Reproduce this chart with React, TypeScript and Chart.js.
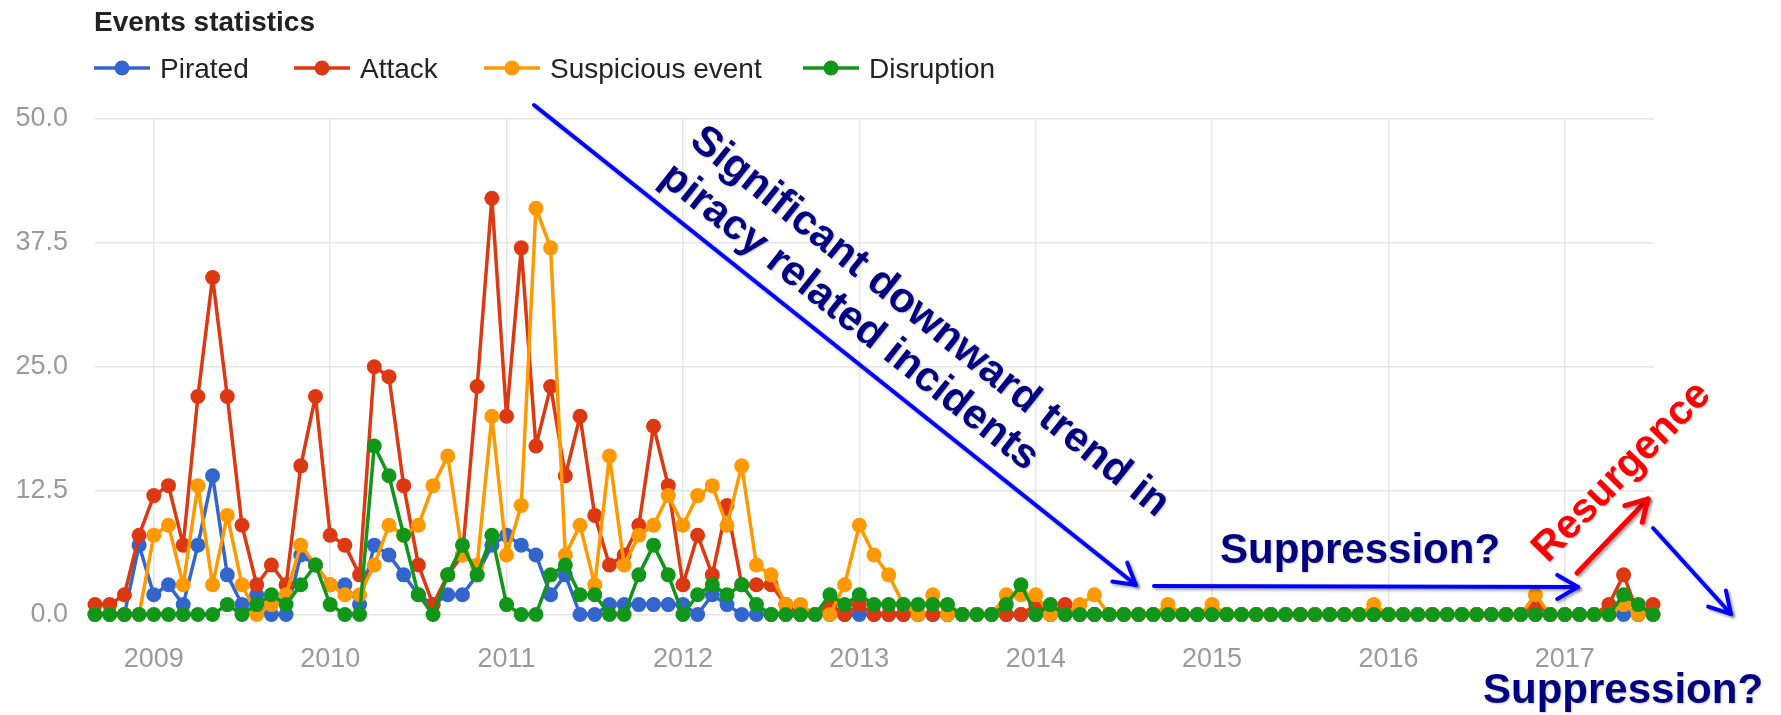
import { useEffect, useRef } from 'react';
import { Chart, registerables } from 'chart.js';

Chart.register(...registerables);

// ---------------- DATA ----------------
const TITLE = 'Events statistics';

const months: string[] = [
  '2008-09', '2008-10', '2008-11', '2008-12',
  '2009-01', '2009-02', '2009-03', '2009-04', '2009-05', '2009-06', '2009-07', '2009-08', '2009-09', '2009-10', '2009-11', '2009-12',
  '2010-01', '2010-02', '2010-03', '2010-04', '2010-05', '2010-06', '2010-07', '2010-08', '2010-09', '2010-10', '2010-11', '2010-12',
  '2011-01', '2011-02', '2011-03', '2011-04', '2011-05', '2011-06', '2011-07', '2011-08', '2011-09', '2011-10', '2011-11', '2011-12',
  '2012-01', '2012-02', '2012-03', '2012-04', '2012-05', '2012-06', '2012-07', '2012-08', '2012-09', '2012-10', '2012-11', '2012-12',
  '2013-01', '2013-02', '2013-03', '2013-04', '2013-05', '2013-06', '2013-07', '2013-08', '2013-09', '2013-10', '2013-11', '2013-12',
  '2014-01', '2014-02', '2014-03', '2014-04', '2014-05', '2014-06', '2014-07', '2014-08', '2014-09', '2014-10', '2014-11', '2014-12',
  '2015-01', '2015-02', '2015-03', '2015-04', '2015-05', '2015-06', '2015-07', '2015-08', '2015-09', '2015-10', '2015-11', '2015-12',
  '2016-01', '2016-02', '2016-03', '2016-04', '2016-05', '2016-06', '2016-07', '2016-08', '2016-09', '2016-10', '2016-11', '2016-12',
  '2017-01', '2017-02', '2017-03', '2017-04', '2017-05', '2017-06', '2017-07',
];

const pirated: number[] = [
  0, 0, 0, 7,
  2, 3, 1, 7, 14, 4, 1, 2, 0, 0, 6, 5,
  3, 3, 1, 7, 6, 4, 2, 1, 2, 2, 4, 7,
  8, 7, 6, 2, 4, 0, 0, 1, 1, 1, 1, 1,
  1, 0, 2, 1, 0, 0, 0, 0, 0, 0, 0, 0,
  0, 0, 0, 0, 0, 0, 0, 0, 0, 0, 0, 0,
  0, 0, 0, 0, 0, 0, 0, 0, 0, 0, 0, 0,
  0, 0, 0, 0, 0, 0, 0, 0, 0, 0, 0, 0,
  0, 0, 0, 0, 0, 0, 0, 0, 0, 0, 0, 0,
  0, 0, 0, 0, 0, 0, 0,
];

const attack: number[] = [
  1, 1, 2, 8,
  12, 13, 7, 22, 34, 22, 9, 3, 5, 3, 15, 22,
  8, 7, 4, 25, 24, 13, 5, 1, 4, 6, 23, 42,
  20, 37, 17, 23, 14, 20, 10, 5, 6, 9, 19, 13,
  3, 8, 4, 11, 3, 3, 3, 1, 0, 0, 1, 0,
  1, 0, 0, 0, 0, 0, 0, 0, 0, 0, 0, 0,
  1, 0, 1, 0, 0, 0, 0, 0, 0, 0, 0, 0,
  0, 0, 0, 0, 0, 0, 0, 0, 0, 0, 0, 0,
  0, 0, 0, 0, 0, 0, 0, 0, 0, 0, 1, 0,
  0, 0, 0, 1, 4, 0, 1,
];

const suspicious: number[] = [
  0, 0, 0, 0,
  8, 9, 3, 13, 3, 10, 3, 0, 1, 2, 7, 5,
  3, 2, 2, 5, 9, 8, 9, 13, 16, 6, 5, 20,
  6, 11, 41, 37, 6, 9, 3, 16, 5, 8, 9, 12,
  9, 12, 13, 9, 15, 5, 4, 1, 1, 0, 0, 3,
  9, 6, 4, 1, 0, 2, 0, 0, 0, 0, 2, 2,
  2, 0, 0, 1, 2, 0, 0, 0, 0, 1, 0, 0,
  1, 0, 0, 0, 0, 0, 0, 0, 0, 0, 0, 1,
  0, 0, 0, 0, 0, 0, 0, 0, 0, 0, 2, 0,
  0, 0, 0, 0, 1, 0, 0,
];

const disruption: number[] = [
  0, 0, 0, 0,
  0, 0, 0, 0, 0, 1, 0, 1, 2, 1, 3, 5,
  1, 0, 0, 17, 14, 8, 2, 0, 4, 7, 4, 8,
  1, 0, 0, 4, 5, 2, 2, 0, 0, 4, 7, 4,
  0, 2, 3, 2, 3, 1, 0, 0, 0, 0, 2, 1,
  2, 1, 1, 1, 1, 1, 1, 0, 0, 0, 1, 3,
  0, 1, 0, 0, 0, 0, 0, 0, 0, 0, 0, 0,
  0, 0, 0, 0, 0, 0, 0, 0, 0, 0, 0, 0,
  0, 0, 0, 0, 0, 0, 0, 0, 0, 0, 0, 0,
  0, 0, 0, 0, 2, 1, 0,
];

const seriesNames: string[] = ['Pirated', 'Attack', 'Suspicious event', 'Disruption'];
const seriesColors: string[] = ['#3366cc', '#dc3912', '#ff9900', '#109618'];

const yearLabels: string[] = ['2009', '2010', '2011', '2012', '2013', '2014', '2015', '2016', '2017'];
const yTickLabels: string[] = ['0.0', '12.5', '25.0', '37.5', '50.0'];

// annotation texts
const trendLine1 = 'Significant downward trend in';
const trendLine2 = 'piracy related incidents';
const suppressionText = 'Suppression?';
const resurgenceText = 'Resurgence';

// ---------------- HELPERS ----------------
const FONT = '"Liberation Sans", Arial, Helvetica, sans-serif';
const monthToX = (m: string) => {
  const [y, mo] = m.split('-').map(Number);
  return (y - 2009) * 12 + (mo - 1);
};
const yearTickValues = yearLabels.map((l) => (Number(l) - 2009) * 12);
const yTickValues = yTickLabels.map(Number);

function drawArrow(ctx: CanvasRenderingContext2D, x1: number, y1: number, x2: number, y2: number, color: string, width: number, head = 24) {
  ctx.save();
  ctx.strokeStyle = color;
  ctx.lineWidth = width;
  ctx.lineCap = 'round';
  ctx.lineJoin = 'round';
  ctx.shadowColor = 'rgba(0,0,0,0.35)';
  ctx.shadowBlur = 3;
  ctx.shadowOffsetX = 2;
  ctx.shadowOffsetY = 2;
  ctx.beginPath();
  ctx.moveTo(x1, y1);
  ctx.lineTo(x2, y2);
  ctx.stroke();
  const a = Math.atan2(y2 - y1, x2 - x1);
  ctx.beginPath();
  ctx.moveTo(x2 + head * Math.cos(a + Math.PI - Math.PI / 6), y2 + head * Math.sin(a + Math.PI - Math.PI / 6));
  ctx.lineTo(x2, y2);
  ctx.lineTo(x2 + head * Math.cos(a + Math.PI + Math.PI / 6), y2 + head * Math.sin(a + Math.PI + Math.PI / 6));
  ctx.stroke();
  ctx.restore();
}

function drawRotText(ctx: CanvasRenderingContext2D, text: string, x: number, y: number, deg: number, color: string, size: number, align: CanvasTextAlign = 'left', baseline: CanvasTextBaseline = 'alphabetic') {
  ctx.save();
  ctx.translate(x, y);
  ctx.rotate((deg * Math.PI) / 180);
  ctx.font = `bold ${size}px ${FONT}`;
  ctx.fillStyle = color;
  ctx.textAlign = align;
  ctx.textBaseline = baseline;
  ctx.shadowColor = 'rgba(0,0,0,0.2)';
  ctx.shadowBlur = 2;
  ctx.shadowOffsetX = 1;
  ctx.shadowOffsetY = 1;
  ctx.fillText(text, 0, 0);
  ctx.restore();
}

const overlayPlugin = {
  id: 'overlay',
  afterDraw(chart: Chart) {
    const ctx = chart.ctx;
    ctx.save();
    // Title
    ctx.font = `bold 28px ${FONT}`;
    ctx.fillStyle = '#222222';
    ctx.textAlign = 'left';
    ctx.textBaseline = 'alphabetic';
    ctx.fillText(TITLE, 94, 31);

    // Legend
    const legendX = [94, 294, 484, 803];
    const legendY = 68;
    seriesNames.forEach((name, i) => {
      const x0 = legendX[i];
      ctx.strokeStyle = seriesColors[i];
      ctx.lineWidth = 3.5;
      ctx.beginPath();
      ctx.moveTo(x0, legendY);
      ctx.lineTo(x0 + 56, legendY);
      ctx.stroke();
      ctx.fillStyle = seriesColors[i];
      ctx.beginPath();
      ctx.arc(x0 + 28, legendY, 7.5, 0, Math.PI * 2);
      ctx.fill();
      ctx.fillStyle = '#222222';
      ctx.font = `28px ${FONT}`;
      ctx.textBaseline = 'alphabetic';
      ctx.fillText(name, x0 + 66, legendY + 10);
    });
    ctx.restore();

    // Annotations
    const navy = '#000080';
    drawArrow(ctx, 534, 105, 1136, 585, '#0000ff', 4);
    drawRotText(ctx, trendLine1, 688, 144, 38.6, navy, 42);
    drawRotText(ctx, trendLine2, 658, 181, 38.3, navy, 42);

    drawArrow(ctx, 1154, 586, 1578, 587, '#0000ff', 4);
    drawRotText(ctx, suppressionText, 1220, 563, 0, navy, 42);

    drawArrow(ctx, 1577, 573, 1648, 499, '#ff0000', 5);
    drawRotText(ctx, resurgenceText, 1622, 472, -45.5, '#ff0000', 41, 'center', 'middle');

    drawArrow(ctx, 1653, 528, 1731, 614, '#0000ff', 4);
    drawRotText(ctx, suppressionText, 1483, 703, 0, navy, 42);
  },
};

export default function App() {
  const ref = useRef<HTMLCanvasElement>(null);

  useEffect(() => {
    document.body.style.margin = '0';
    const canvas = ref.current;
    if (!canvas) return;
    const allSeries = [pirated, attack, suspicious, disruption];
    const chart = new Chart(canvas, {
      type: 'line',
      data: {
        datasets: allSeries.map((vals, si) => ({
          label: seriesNames[si],
          data: months.map((m, i) => ({ x: monthToX(m), y: vals[i] })),
          borderColor: seriesColors[si],
          backgroundColor: seriesColors[si],
          pointBackgroundColor: seriesColors[si],
          pointBorderColor: seriesColors[si],
          borderWidth: 3.5,
          borderJoinStyle: 'round',
          borderCapStyle: 'round',
          pointRadius: 7.5,
          pointHoverRadius: 7.5,
          pointBorderWidth: 0,
          tension: 0,
          clip: false as any,
          order: 4 - si,
        })),
      },
      options: {
        responsive: false,
        animation: false,
        devicePixelRatio: 1,
        layout: { padding: { top: 119, right: 128, left: 0, bottom: 0 } },
        plugins: {
          legend: { display: false },
          title: { display: false },
          tooltip: { enabled: false },
        },
        events: [],
        scales: {
          x: {
            type: 'linear',
            min: monthToX(months[0]),
            max: monthToX(months[months.length - 1]),
            afterBuildTicks: (s: any) => {
              s.ticks = yearTickValues.map((v) => ({ value: v }));
            },
            afterFit: (s: any) => {
              s.height = 100.5;
            },
            ticks: {
              autoSkip: false,
              maxRotation: 0,
              padding: 29,
              color: '#9a9a9a',
              font: { size: 27, family: FONT },
              callback: (v: any) => {
                const idx = yearTickValues.indexOf(Number(v));
                return idx >= 0 ? yearLabels[idx] : '';
              },
            },
            grid: { color: '#e6e6e6', lineWidth: 1.5, drawTicks: false },
            border: { display: false },
          },
          y: {
            min: 0,
            max: 50,
            afterBuildTicks: (s: any) => {
              s.ticks = yTickValues.map((v) => ({ value: v }));
            },
            afterFit: (s: any) => {
              s.width = 95;
            },
            ticks: {
              padding: 27,
              color: '#9a9a9a',
              font: { size: 27, family: FONT },
              callback: (v: any) => {
                const idx = yTickValues.indexOf(Number(v));
                return idx >= 0 ? yTickLabels[idx] : '';
              },
            },
            grid: { color: '#e6e6e6', lineWidth: 1.5, drawTicks: false },
            border: { display: false },
          },
        },
      },
      plugins: [overlayPlugin],
    } as any);
    return () => chart.destroy();
  }, []);

  return (
    <div style={{ width: 1781, height: 715, position: 'relative', background: '#ffffff' }}>
      <canvas ref={ref} width={1781} height={715} style={{ display: 'block', width: 1781, height: 715 }} />
    </div>
  );
}
